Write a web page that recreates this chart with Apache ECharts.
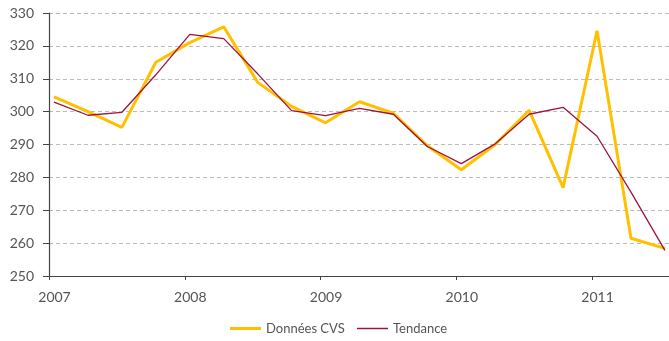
<!DOCTYPE html>
<html>
<head>
<meta charset="utf-8">
<script src="https://cdn.jsdelivr.net/npm/echarts@6/dist/echarts.min.js"></script>
<style>
html,body{margin:0;padding:0;background:#fff;}
#chart{width:669px;height:341px;}
</style>
</head>
<body>
<div id="chart"></div>
<script>
// Quarterly observations, 2007 T1 – 2011 T3
const years    = [2007,2007,2007,2007,2008,2008,2008,2008,2009,2009,2009,2009,2010,2010,2010,2010,2011,2011,2011];
const quarters = [1,2,3,4,1,2,3,4,1,2,3,4,1,2,3,4,1,2,3];
const donneesCVS = [304.5,300.0,295.2,315.0,321.0,325.8,308.9,301.6,296.6,303.0,299.5,289.6,282.3,290.0,300.4,276.9,324.6,261.5,258.4];
const tendance   = [302.9,298.9,299.8,311.2,323.5,322.2,311.5,300.3,298.8,301.0,299.2,289.4,284.2,290.2,299.2,301.3,292.5,275.5,257.8];
const yearTicks  = [2007,2008,2009,2010,2011];

// each observation is placed slightly after the start of its quarter
const xOf = (y, q) => y + (q - 1) * 0.25 + 0.037;
const pairs = arr => arr.map((v, i) => [xOf(years[i], quarters[i]), v]);

const chart = echarts.init(document.getElementById('chart'));
const font = 'Lato, "Open Sans", sans-serif';
const legendText = { color: '#555', fontFamily: font, fontSize: 13 };
chart.setOption({
  animation: false,
  grid: { left: 49, right: 0, top: 13, bottom: 65, containLabel: false },
  xAxis: {
    type: 'value',
    min: yearTicks[0],
    max: 2011.567,
    interval: 1,
    axisLine: { lineStyle: { color: '#444', width: 1.2 } },
    axisTick: { show: true, length: 4, lineStyle: { color: '#444' } },
    splitLine: { show: false },
    axisLabel: {
      color: '#555', fontFamily: font, fontSize: 14, margin: 14,
      padding: [0, 0, 0, 11],
      showMaxLabel: false,
      formatter: v => yearTicks.includes(v) ? String(v) : ''
    }
  },
  yAxis: {
    type: 'value',
    min: 250, max: 330, interval: 10,
    axisLine: { show: true, lineStyle: { color: '#444', width: 1.2 } },
    axisTick: { show: true, length: 6, lineStyle: { color: '#444' } },
    splitLine: { show: true, lineStyle: { color: '#bbb', type: [4, 3], width: 1 } },
    axisLabel: { color: '#555', fontFamily: font, fontSize: 14, margin: 15 }
  },
  legend: [
    {
      left: 225, top: 317, icon: 'rect',
      itemWidth: 31, itemHeight: 3,
      textStyle: legendText,
      data: ['Données CVS']
    },
    {
      left: 352, top: 317, icon: 'rect',
      itemWidth: 31, itemHeight: 1.5,
      textStyle: legendText,
      data: ['Tendance']
    }
  ],
  series: [
    {
      name: 'Données CVS', type: 'line', data: pairs(donneesCVS),
      symbol: 'none', lineStyle: { color: '#FFC000', width: 3 },
      itemStyle: { color: '#FFC000' }, z: 2
    },
    {
      name: 'Tendance', type: 'line', data: pairs(tendance),
      symbol: 'none', lineStyle: { color: '#A0123F', width: 1.3 },
      itemStyle: { color: '#A0123F' }, z: 3
    }
  ]
});
</script>
</body>
</html>
